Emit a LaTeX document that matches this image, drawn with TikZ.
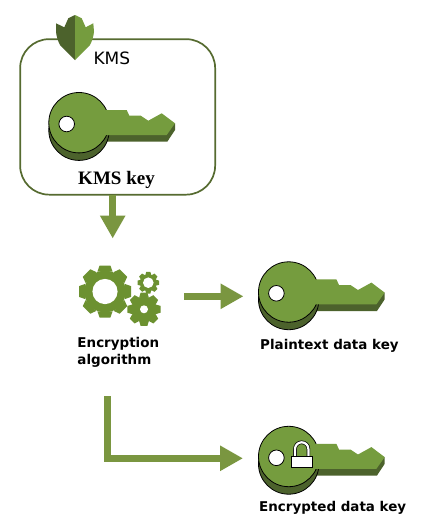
\documentclass[tikz,border=0pt]{standalone}
\usepackage{fontspec}
\setmainfont{DejaVu Sans}
\newfontfamily\serifbold{Liberation Serif}[Scale=1]
\usetikzlibrary{arrows.meta}
\definecolor{keyface}{HTML}{759C3E}
\definecolor{keydark}{HTML}{4C622C}
\definecolor{boxline}{HTML}{566B30}
\definecolor{arrowgreen}{HTML}{7A9640}
\definecolor{gearcol}{HTML}{6C9130}
\tikzset{
  flow/.style={draw=arrowgreen,line width=7pt,-{Triangle[length=23pt,width=24pt,fill=arrowgreen]}},
  lbl/.style={inner sep=0pt,font=\fontsize{13.45}{16.4}\selectfont\bfseries,text=black},
  keyicon/.pic={
    \fill[keydark] (20,5)--(87.7,5)--(96,0.6)--(96,7.3)--(88.3,19)--(20,19)--cycle;
    \filldraw[fill=keydark,draw=black,line width=0.8pt] (0,7.5) circle[radius=30.2pt];
    \filldraw[fill=keyface,draw=black,line width=0.8pt] (0,0) circle[radius=30.2pt];
    \fill[keyface] (24,-12.7)--(47.7,-12.7)--(50.3,-7)--(61.7,-7)--(69.3,-2)--(82.7,-9.4)--(96,0.6)--(87.7,12.3)--(24,12.3)--cycle;
    \filldraw[fill=white,draw=black,line width=0.8pt] (-12.3,1.3) circle[radius=7.8pt];
  },
  gearicon/.pic={
    \fill[gearcol] (0,0) circle[radius=\gearroot pt];
    \foreach \a in {0,45,...,315}
      \fill[gearcol,rotate=\a] (-\gearw pt,-\gearroot pt+1pt) -- (-\geart pt,-\gearout pt) -- (\geart pt,-\gearout pt) -- (\gearw pt,-\gearroot pt+1pt) -- cycle;
    \fill[white] (0,0) circle[radius=\gearhole pt];
  }
}
\begin{document}
\begin{tikzpicture}[x=1pt,y=-1pt]
\useasboundingbox (0,0) rectangle (426,531);
\fill[white] (0,0) rectangle (426,531);

% KMS box
\node[draw=boxline,line width=1.7pt,rounded corners=29pt,minimum width=195pt,minimum height=155.5pt,inner sep=0pt,anchor=north west] (kms) at (19.3,38.3) {};

% KMS shield
\fill[keydark] (75,15) -- (68.3,18.3) -- (64.3,27.3) -- (56,23.3) -- (56,31.7) .. controls (56.5,37) and (58,41) .. (60,45) -- (75,60) -- cycle;
\fill[keyface] (75,15) -- (81.7,18.3) -- (85.7,27.3) -- (93.3,23.3) -- (94,31.7) .. controls (93.5,37) and (92,41) .. (90,45) -- (75,60) -- cycle;

\node[inner sep=0pt,anchor=base west,font=\fontsize{17}{20}\selectfont,text=black] (kmslabel) at (93.3,64) {KMS};

% keys
\pic at (79,122.7) {keyicon};
\node[inner sep=0pt,anchor=base,font=\fontsize{19}{20}\serifbold\bfseries,text=black] (kmskey) at (116.5,184) {KMS key};

\pic at (288.7,292) {keyicon};
\node[lbl,anchor=base west] (plainlabel) at (260,349.3) {Plaintext data key};

\pic at (288.7,456.5) {keyicon};
\node[lbl,anchor=base west] (enclabel) at (259,511.7) {Encrypted data key};

% padlock on encrypted key
\draw[black,line width=3.6pt] (295,456) -- (295,449) arc[start angle=180,end angle=0,radius=6.7pt] -- (308.4,456);
\draw[white,line width=2.2pt] (295,456) -- (295,449) arc[start angle=180,end angle=0,radius=6.7pt] -- (308.4,456);
\node[draw=black,fill=white,line width=0.8pt,minimum width=21.6pt,minimum height=11.6pt,inner sep=0pt,anchor=north west] (lockbody) at (290.8,455.7) {};

% gears
\def\gearroot{20.8}\def\gearout{26}\def\gearw{7.6}\def\geart{5.4}\def\gearhole{12.6}
\pic at (105,291.5) {gearicon};
\def\gearroot{8.4}\def\gearout{10.8}\def\gearw{3}\def\geart{2.1}\def\gearhole{5.3}
\pic at (148.3,282.7) {gearicon};
\def\gearroot{12.8}\def\gearout{16.6}\def\gearw{4.8}\def\geart{3.4}\def\gearhole{4}
\pic at (144,309.3) {gearicon};

\node[lbl,align=left,anchor=north west] (alglabel) at (77.3,337.2) {Encryption\\algorithm};

% connectors
\coordinate (a1) at (112.7,194.8);
\coordinate (a1e) at (112.7,238.5);
\coordinate (a2) at (184,296.3);
\coordinate (a2e) at (243.5,296.3);
\coordinate (a3) at (107.5,396);
\coordinate (a3e) at (243,458.3);
\draw[flow] (a1) -- (a1e);
\draw[flow] (a2) -- (a2e);
\draw[flow] (a3) |- (a3e);
\end{tikzpicture}
\end{document}
